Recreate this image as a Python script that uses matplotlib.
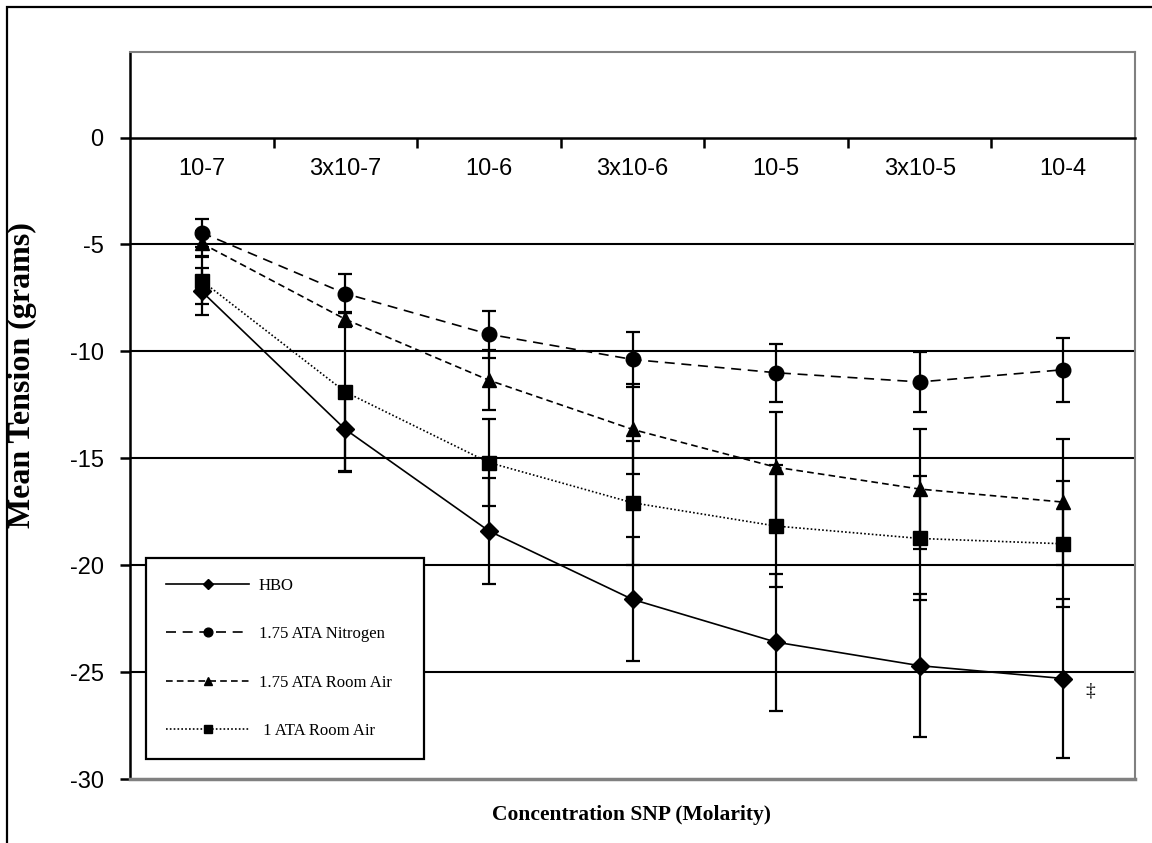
import matplotlib
matplotlib.use("Agg")
import matplotlib.pyplot as plt
from matplotlib.patches import Rectangle
import numpy as np

# categories on the x axis
conc_labels = ["10-7", "3x10-7", "10-6", "3x10-6", "10-5", "3x10-5", "10-4"]

# mean tension per group (grams)
hbo = [-7.2, -13.65, -18.4, -21.6, -23.6, -24.7, -25.3]
nitrogen = [-4.45, -7.3, -9.2, -10.38, -11.0, -11.43, -10.86]
room_air_175 = [-4.95, -8.5, -11.35, -13.65, -15.42, -16.44, -17.05]
room_air_1 = [-6.7, -11.9, -15.2, -17.08, -18.17, -18.75, -19.0]

# error bars (symmetric)
hbo_err = [1.1, 2.0, 2.5, 2.9, 3.2, 3.35, 3.7]
nitrogen_err = [0.66, 0.9, 1.1, 1.3, 1.35, 1.4, 1.5]
room_air_175_err = [0.6, 0.35, 1.4, 2.1, 2.6, 2.8, 2.95]
room_air_1_err = [1.1, 3.7, 2.05, 2.9, 2.85, 2.9, 2.95]

series = [
    ("HBO", hbo, hbo_err, "D", "-", 9),
    ("1.75 ATA Nitrogen", nitrogen, nitrogen_err, "o", (0, (6, 4)), 10.5),
    ("1.75 ATA Room Air", room_air_175, room_air_175_err, "^", (0, (4, 2.5)), 10.5),
    (" 1 ATA Room Air", room_air_1, room_air_1_err, "s", (0, (1, 1.3)), 10),
]

yticks = [0, -5, -10, -15, -20, -25, -30]

fig = plt.figure(figsize=(11.52, 8.43), dpi=100)
ax = fig.add_axes([130 / 1152, 1 - 779 / 843, 1005 / 1152, 727 / 843])

x = np.arange(len(conc_labels))

# horizontal grid lines
ax.hlines(yticks[1:-1], -0.5, len(conc_labels) - 0.5, colors="black", lw=1.5, zorder=1)

handles = []
for name, vals, err, mk, ls, ms in series:
    ax.errorbar(x, vals, yerr=err, fmt="none", ecolor="black", elinewidth=1.6,
                capsize=5, capthick=1.6, zorder=2)
    ln, = ax.plot(x, vals, color="black", ls=ls, lw=1.2, marker=mk, ms=ms,
                  mfc="black", mec="black", zorder=3, label=name)
    handles.append(ln)

ax.set_xlim(-0.5, len(conc_labels) - 0.5)
ax.set_ylim(-30, 4)

# x axis crosses at y = 0
ax.spines["bottom"].set_position(("data", 0))
ax.spines["bottom"].set_color("black")
ax.spines["bottom"].set_linewidth(1.8)
ax.spines["left"].set_linewidth(1.8)
for s in ["top", "right"]:
    ax.spines[s].set_color("#808080")
    ax.spines[s].set_linewidth(1.5)
ax.plot([0, 1], [0, 0], transform=ax.transAxes, color="#808080", lw=2.5,
        clip_on=False, zorder=5)

ax.set_xticks(x)
ax.set_xticklabels(conc_labels, fontsize=17, family="Liberation Sans")
ax.set_xticks(np.arange(0.5, len(conc_labels) - 1, 1), minor=True)
ax.tick_params(axis="x", which="major", length=0, pad=15)
ax.tick_params(axis="x", which="minor", length=7, width=1.8, direction="out")

ax.set_yticks(yticks)
ax.set_yticklabels([str(v) for v in yticks], fontsize=17, family="Liberation Sans")
ax.tick_params(axis="y", length=7, width=1.8, direction="out", pad=12)

fig.text(22 / 1152, 1 - 375 / 843, "Mean Tension (grams)", rotation=90,
         fontsize=23, fontweight="bold", family="Liberation Serif",
         ha="center", va="center")
fig.text(632 / 1152, 1 - 815 / 843, "Concentration SNP (Molarity)",
         fontsize=15.5, fontweight="bold", family="Liberation Serif",
         ha="center", va="center")

# significance mark next to last HBO point
ax.text(6.19, -25.9, "\u2021", fontsize=14, family="Liberation Serif",
        ha="center", va="center")

leg = ax.legend(handles=handles, loc="lower left",
                bbox_to_anchor=(0.016, 0.0275, 0.2765, 0.2835), mode="expand",
                prop={"family": "Liberation Serif", "size": 12},
                frameon=True, fancybox=False, edgecolor="black", framealpha=1,
                handlelength=5.0, handletextpad=0.55, labelspacing=1.95,
                borderpad=1.2, markerscale=0.6, borderaxespad=0)
leg.get_frame().set_linewidth(1.6)
leg.set_zorder(6)

# outer chart frame
fig.add_artist(Rectangle((7 / 1152, -0.1), 1.2, 1.1 - 7 / 843, fill=False,
                         edgecolor="black", lw=1.6, transform=fig.transFigure,
                         clip_on=False))

fig.savefig("out.png", dpi=100)
